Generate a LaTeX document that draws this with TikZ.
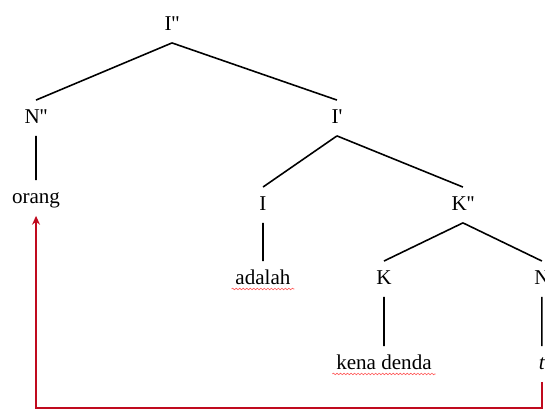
\documentclass[tikz,border=0pt]{standalone}
\usepackage{fontspec}
\setmainfont{Liberation Serif}[Ligatures=TeXOff]
\usetikzlibrary{arrows.meta,decorations.pathmorphing}
\definecolor{tracered}{RGB}{192,10,30}
\begin{document}
\begin{tikzpicture}[x=0.02cm, y=-0.02cm,
        every node/.style = {font=\fontsize{12}{14}\selectfont,
        inner xsep=2pt, inner ysep=5pt, text height=8pt, text depth=2pt},
        edge from parent/.style = {draw, line width=0.9pt},
        parent anchor=south, child anchor=north,
        level 1/.style = {level distance=1.86cm, sibling distance=6.02cm},
        level 2/.style = {level distance=1.74cm, sibling distance=4cm},
        level 3/.style = {level distance=1.48cm, sibling distance=3.16cm},
        level 4/.style = {level distance=1.7cm},
        trace/.style = {draw=tracered, line width=1.1pt,
        -{Stealth[length=5pt, width=4.5pt]}},
        spell/.style = {draw=red!65, line width=0.35pt, decorate,
        decoration={snake, amplitude=0.45pt, segment length=2pt}}]
    \useasboundingbox (0,0) rectangle (545,410);
    \node (ipp) at (172,25) {I''}
        child[xshift=0.29cm] { node (npp) {N''}
            child[level distance=1.6cm] { node (orang) {orang} }
        }
        child[xshift=0.29cm] { node (ip) {I'}
            child[xshift=0.52cm] { node (i) {I}
                child { node (adalah) {adalah} }
            }
            child[xshift=0.52cm] { node (kpp) {K''}
                child { node (k) {K}
                    child { node (kena) {kena denda} }
                }
                child { node (n) {N}
                    child { node (t) {\textit{t}} }
                }
            }
        };
    % spelling marks under the words
    \draw[spell] ([yshift=4.5pt]adalah.south west) -- ([yshift=4.5pt]adalah.south east);
    \draw[spell] ([yshift=4.5pt]kena.south west) -- ([yshift=4.5pt]kena.south east);
    % movement of the trace
    \coordinate (bend) at (0,408);
    \draw[trace] (t.south) |- (orang.south |- bend) -- (orang.south);
\end{tikzpicture}
\end{document}
